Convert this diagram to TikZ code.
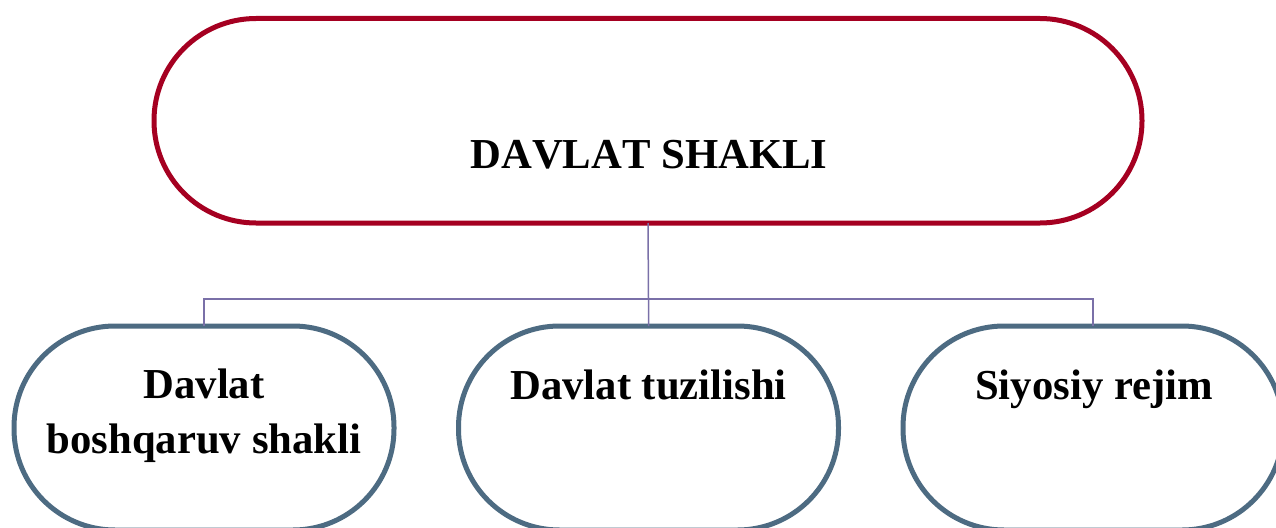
\documentclass[tikz,border=0pt]{standalone}
\usepackage{fontspec}
\setmainfont{Liberation Serif}
\newfontfamily\nokernfont[Kerning=Off]{Liberation Serif}
\definecolor{topred}{HTML}{A50021}
\definecolor{slate}{HTML}{4D6B82}
\definecolor{conncol}{HTML}{7A70A8}
\begin{document}
\begin{tikzpicture}[x=1pt,y=-1pt,
  topbox/.style={draw=topred,line width=5pt,rounded corners=102pt,minimum width=988pt,minimum height=204.5pt,inner sep=0pt,outer sep=0pt,fill=white},
  subbox/.style={draw=slate,line width=5pt,rounded corners=101pt,minimum width=380pt,minimum height=204pt,inner sep=0pt,outer sep=0pt,fill=white},
  txt/.style={font=\fontsize{42.7}{55}\selectfont\bfseries,anchor=base,align=center,inner sep=0pt},
  conn/.style={draw=conncol,line width=1.5pt}]
\path[use as bounding box] (0,0) rectangle (1276,527);
\clip (0,0) rectangle (1276,527);
\coordinate (bus) at (648.5,299);
\coordinate (j1) at (204,299);
\coordinate (j3) at (1093,299);
\node[topbox] (top) at (648,120.75) {};
\node[subbox] (b1) at (204,428) {};
\node[subbox] (b2) at (648.5,428) {};
\node[subbox] (b3) at (1093,428) {};
\draw[conn] (top.south) -- (bus) -- (b2.north);
\draw[conn] (b1.north) -- (j1) -- (j3) -- (b3.north);
\node[txt] (t0) at (649,168) {\nokernfont\bfseries DAVLAT SHAKLI};
\node[txt] (t1) at (204,453) {Davlat\\boshqaruv shakli};
\node[txt] (t2) at (648.5,399) {Davlat tuzilishi};
\node[txt] (t3) at (1094,399) {Siyosiy rejim};
\end{tikzpicture}
\end{document}
